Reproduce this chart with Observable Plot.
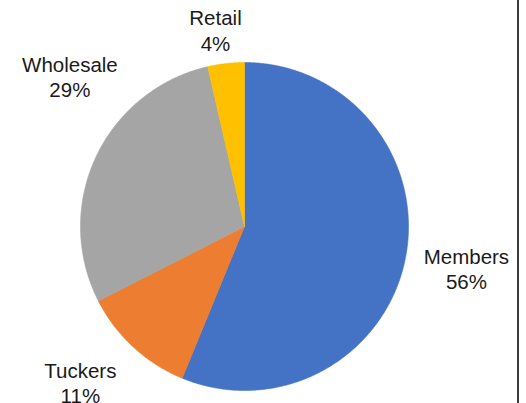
<!DOCTYPE html>
<html>
<head>
<meta charset="utf-8">
<script src="https://cdn.jsdelivr.net/npm/d3@7"></script>
<script src="https://cdn.jsdelivr.net/npm/@observablehq/plot@0.6"></script>
<style>
  html, body { margin: 0; padding: 0; background: #fff; }
  #wrap { position: relative; width: 526px; height: 403px; overflow: hidden; }
  #edge { position: absolute; left: 517px; top: 0; width: 2px; height: 403px; background: #3c3c3c; }
</style>
</head>
<body>
<div id="wrap"><div id="edge"></div></div>
<script>
// ---- data ----
const categories = ["Members", "Tuckers", "Wholesale", "Retail"];
const shares = [56.2, 11.3, 28.9, 3.6];
const colors = ["#4472C4", "#ED7D31", "#A5A5A5", "#FFC000"];

// ---- layout (label offsets from slice edge midpoint, px) ----
const R = 164;
const labelOffsets = [[61, 10], [-53, 35], [-26, -81], [-10.5, -33.5]];

const total = d3.sum(shares);
const arcs = d3.pie().sort(null).value(d => d)(shares);

const slicePts = [];
arcs.forEach((a, i) => {
  const name = categories[i];
  slicePts.push({name, x: 0, y: 0});
  const n = Math.max(2, Math.ceil((a.endAngle - a.startAngle) / (Math.PI / 360)));
  for (let k = 0; k <= n; k++) {
    const t = a.startAngle + (a.endAngle - a.startAngle) * k / n;
    slicePts.push({name, x: Math.sin(t), y: Math.cos(t)});
  }
  slicePts.push({name, x: 0, y: 0});
});

const fmt = d3.format(".0%");
const labels = arcs.map((a, i) => {
  const m = (a.startAngle + a.endAngle) / 2;
  return {
    name: categories[i],
    text: categories[i] + "\n" + fmt(shares[i] / total),
    x: Math.sin(m) + labelOffsets[i][0] / R,
    y: Math.cos(m) - labelOffsets[i][1] / R
  };
});

const chart = Plot.plot({
  width: 526,
  height: 403,
  marginLeft: 80,
  marginRight: 118,
  marginTop: 62,
  marginBottom: 13,
  x: {domain: [-1, 1], axis: null},
  y: {domain: [-1, 1], axis: null},
  color: {domain: categories, range: colors, legend: false},
  style: {fontFamily: "'Liberation Sans', Arial, sans-serif", background: "transparent", overflow: "visible"},
  marks: [
    Plot.line(slicePts, {x: "x", y: "y", z: "name", fill: "name", stroke: "name", strokeWidth: 0.6, curve: "linear"}),
    Plot.text(labels, {x: "x", y: "y", text: "text", fontSize: 20.5, lineHeight: 1.245, fill: "#1a1a1a", textAnchor: "middle", lineAnchor: "middle"})
  ]
});
document.getElementById("wrap").prepend(chart);
</script>
</body>
</html>
